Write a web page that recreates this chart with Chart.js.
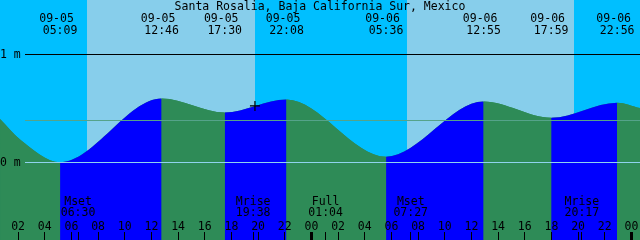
<!DOCTYPE html>
<html>
<head>
<meta charset="utf-8">
<script src="https://cdn.jsdelivr.net/npm/chart.js@4.4.1/dist/chart.umd.min.js"></script>
<style>
  body { margin: 0; background: #00bfff; }
  #wrap { width: 640px; height: 240px; }
</style>
</head>
<body>
<div id="wrap"><canvas id="tide" width="640" height="240"></canvas></div>
<script>
// Santa Rosalia tide graph, 09-05 .. 09-06
const title = 'Santa Rosalia, Baja California Sur, Mexico';

// high / low water
const tideDates  = ['09-05', '09-05', '09-05', '09-05', '09-06', '09-06', '09-06', '09-06'];
const tideClock  = ['05:09', '12:46', '17:30', '22:08', '05:36', '12:55', '17:59', '22:56'];
const tideLevels = [0.00, 0.59, 0.46, 0.58, 0.05, 0.56, 0.41, 0.55];

// curve read near the window edges (hours after 09-05 00:00)
const edgeHours  = [0.65, 2.15, 48.65];
const edgeLevels = [0.40, 0.21, 0.50];

// moon events
const moonNames = ['Mset', 'Mrise', 'Full', 'Mset', 'Mrise'];
const moonDates = ['09-05', '09-05', '09-06', '09-06', '09-06'];
const moonClock = ['06:30', '19:38', '01:04', '07:27', '20:17'];

// daylight
const sunriseDates = ['09-05', '09-06'];
const sunriseClock = ['07:11', '07:11'];
const sunsetDates  = ['09-05', '09-06'];
const sunsetClock  = ['19:46', '19:43'];

// hour axis, every 2 h starting 09-05 02:00
const hourLabels = ['02', '04', '06', '08', '10', '12', '14', '16', '18', '20', '22', '00',
                    '02', '04', '06', '08', '10', '12', '14', '16', '18', '20', '22', '00'];

// level lines
const levelValues = [1, 0];
const levelLabels = ['1 m', '0 m'];
const mslLevel = 0.39;

// the "+" mark on the curve
const markDates  = ['09-05'];
const markClock  = ['19:46'];
const markLevels = [0.52];

const NIGHT = '#00bfff', DAY = '#87ceeb', FLOOD = '#0000ff', EBB = '#2e8b57';
const FONT = '11.5px "DejaVu Sans Mono", monospace';

function toHours(date, clock) {
  const day = parseInt(date.split('-')[1], 10) - 5;
  const [hh, mm] = clock.split(':').map(Number);
  return day * 24 + hh + mm / 60;
}

const tideHours = tideDates.map((d, i) => toHours(d, tideClock[i]));
const curve = tideHours.map((h, i) => ({x: h, y: tideLevels[i]}))
  .concat(edgeHours.map((h, i) => ({x: h, y: edgeLevels[i]})))
  .sort((a, b) => a.x - b.x);

const decor = {
  id: 'decor',
  beforeDraw(chart) {
    const {ctx, chartArea: a, scales: {x}} = chart;
    ctx.save();
    ctx.fillStyle = NIGHT;
    ctx.fillRect(a.left, a.top, a.right - a.left, a.bottom - a.top);
    ctx.fillStyle = DAY;
    sunriseDates.forEach((d, i) => {
      const x0 = Math.round(x.getPixelForValue(toHours(d, sunriseClock[i])));
      const x1 = Math.round(x.getPixelForValue(toHours(sunsetDates[i], sunsetClock[i])));
      ctx.fillRect(x0, a.top, x1 - x0, a.bottom - a.top);
    });
    ctx.restore();
  },
  afterDatasetsDraw(chart) {
    const {ctx, chartArea: a, scales: {x, y}} = chart;
    ctx.save();
    // level lines
    ctx.fillStyle = '#000';
    ctx.fillRect(25, Math.round(y.getPixelForValue(1)), a.right - 25, 1);
    ctx.fillStyle = '#8fd3ee';
    ctx.fillRect(25, Math.round(y.getPixelForValue(0)), a.right - 25, 1);
    ctx.fillStyle = '#55a38a';
    ctx.fillRect(25, Math.round(y.getPixelForValue(mslLevel)), a.right - 25, 1);

    ctx.font = FONT;
    ctx.fillStyle = '#000';
    ctx.textBaseline = 'alphabetic';
    ctx.textAlign = 'left';
    levelValues.forEach((v, i) => {
      ctx.fillText(levelLabels[i], 0, Math.round(y.getPixelForValue(v)) + 4);
    });

    // title + tide event labels
    ctx.textAlign = 'center';
    ctx.fillText(title, 320, 10);
    tideHours.forEach((h, i) => {
      const px = x.getPixelForValue(h);
      ctx.fillText(tideDates[i], px - 3.5, 22);
      ctx.fillText(tideClock[i], px, 34);
    });

    // hour ticks
    hourLabels.forEach((lab, i) => {
      const h = (i + 1) * 2;
      const px = x.getPixelForValue(h);
      if (h % 24 === 0) ctx.fillRect(Math.floor(px) - 1, 232, 3, 8);
      else ctx.fillRect(Math.floor(px), 232, 1, 8);
      ctx.fillText(lab, px, 229.5);
    });

    // moon events
    moonNames.forEach((name, i) => {
      const px = x.getPixelForValue(toHours(moonDates[i], moonClock[i]));
      ctx.fillRect(Math.floor(px), 232, 1, 8);
      ctx.fillText(name, px, 205);
      ctx.fillText(moonClock[i], px, 216);
    });
    ctx.restore();
  }
};

const tideStyle = {
  data: curve,
  fill: 'start',
  backgroundColor: EBB,
  borderColor: 'rgba(0,0,0,0)',
  borderWidth: 0,
  pointRadius: 0,
  cubicInterpolationMode: 'monotone'
};

new Chart(document.getElementById('tide'), {
  type: 'line',
  data: {
    datasets: [
      // plain ebb fill underneath so the colour seams stay clean
      Object.assign({}, tideStyle, { order: 2 }),
      Object.assign({}, tideStyle, {
        order: 1,
        segment: {
          backgroundColor: c => c.p1.parsed.y > c.p0.parsed.y ? FLOOD : EBB
        }
      }),
      {
        data: markDates.map((d, i) => ({x: toHours(d, markClock[i]), y: markLevels[i]})),
        order: 0,
        showLine: false,
        pointStyle: 'cross',
        pointRadius: 5,
        pointBorderWidth: 1.2,
        pointBorderColor: '#000'
      }
    ]
  },
  options: {
    responsive: false,
    animation: false,
    events: [],
    layout: { padding: 0, autoPadding: false },
    plugins: { legend: { display: false }, tooltip: { enabled: false } },
    scales: {
      x: { type: 'linear', min: 0.645, max: 48.645, display: false },
      y: { min: -0.72, max: 1.5, display: false }
    }
  },
  plugins: [decor]
});
</script>
</body>
</html>
